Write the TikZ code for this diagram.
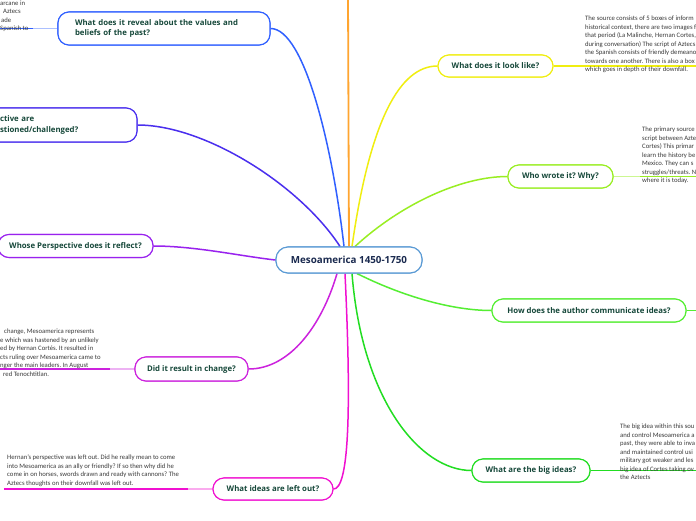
\documentclass[tikz,border=0pt]{standalone}
\usepackage{fontspec}
\setmainfont{Carlito}
\newfontfamily\titlefont{Open Sans}
\frenchspacing
\definecolor{titlegreen}{HTML}{16483A}
\definecolor{navy}{HTML}{1A2A4F}
\definecolor{bodygray}{HTML}{3A3A3A}
\definecolor{cborder}{HTML}{5B9BD5}
\definecolor{corange}{HTML}{FFA530}
\definecolor{cblue}{HTML}{3060FF}
\definecolor{cindigo}{HTML}{4A2FEE}
\definecolor{cpurple}{HTML}{9922EE}
\definecolor{cmagenta}{HTML}{CC22DD}
\definecolor{cpink}{HTML}{F010D0}
\definecolor{cyellow}{HTML}{F0EE10}
\definecolor{clime}{HTML}{99EE22}
\definecolor{cgreenb}{HTML}{55EE33}
\definecolor{cgreen}{HTML}{22DD22}
\tikzset{
  topic/.style={draw, rounded corners=11pt, fill=white, line width=1.1pt,
    font=\titlefont\bfseries\fontsize{7.8}{10.5}\selectfont, text=titlegreen,
    inner sep=0pt, minimum height=23pt},
  central/.style={draw=cborder, rounded corners=12pt, fill=white, line width=1.1pt,
    font=\titlefont\bfseries\fontsize{9.8}{11}\selectfont, text=navy,
    inner sep=0pt, minimum height=26pt, minimum width=146pt},
  body/.style={font=\fontsize{6.7}{8.5}\selectfont, text=bodygray,
    inner sep=0pt, anchor=north west, align=left},
  branch/.style={line width=1.5pt},
  uline/.style={line width=1.3pt}
}
\begin{document}
\begin{tikzpicture}[x=1pt,y=-1pt]
\useasboundingbox (0,0) rectangle (696,520);
\clip (0,0) rectangle (696,520);
\fill[white] (0,0) rectangle (696,520);

\path
  (349,260) coordinate (centerpos)
  (164,28.5) coordinate (revealpos)
  (60,125) coordinate (questpos)
  (75.5,246) coordinate (whosepos)
  (191.5,369) coordinate (didpos)
  (273,489) coordinate (leftpos)
  (495.5,66) coordinate (lookpos)
  (560.5,176.5) coordinate (whopos)
  (589,310.5) coordinate (howpos)
  (531,470.5) coordinate (bigpos);

% nodes (first pass, to name them)
\node[central] (center) at (centerpos) {Mesoamerica 1450-1750};
\node[topic, draw=cblue, text width=178pt, inner xsep=17pt, minimum height=33pt, align=left] (reveal) at (revealpos)
  {What does it reveal about the values and\\beliefs of the past?};
\node[topic, draw=cindigo, text width=120pt, inner xsep=17pt, minimum height=34pt, align=left] (quest) at (questpos)
  {ctive are\\stioned/challenged?};
\node[topic, draw=cpurple, minimum width=155pt] (whose) at (whosepos) {Whose Perspective does it reflect?};
\node[topic, draw=cmagenta, minimum width=113pt, minimum height=24pt] (did) at (didpos) {Did it result in change?};
\node[topic, draw=cpink, minimum width=120pt, minimum height=22pt] (leftout) at (leftpos) {What ideas are left out?};
\node[topic, draw=cyellow, minimum width=115pt, minimum height=22pt] (look) at (lookpos) {What does it look like?};
\node[topic, draw=clime, minimum width=105pt, minimum height=23pt] (who) at (whopos) {Who wrote it? Why?};
\node[topic, draw=cgreenb, minimum width=194pt, minimum height=23pt] (how) at (howpos) {How does the author communicate ideas?};
\node[topic, draw=cgreen, minimum width=118pt, minimum height=23pt] (big) at (bigpos) {What are the big ideas?};

% free ends
\coordinate (otop) at (348,-5);
\coordinate (ulreveal) at (0,28.5);
\coordinate (ulrevealm) at (33,28.5);
\coordinate (uldid) at (0,369);
\coordinate (uldidm) at (110,369);
\coordinate (ulleft) at (4,489);
\coordinate (ulleftm) at (188,489);
\coordinate (ullook) at (700,66);
\coordinate (ulwho) at (700,176.5);
\coordinate (ulwhom) at (640,176.5);
\coordinate (ulbig) at (700,470.5);
\coordinate (ulhow) at (700,310.5);

% connectors
\draw[line width=1.8pt, corange] (center.north) -- (otop);
\draw[branch, cblue] ([xshift=-5pt]center.north) .. controls (333,150) and (305,28.5) .. (reveal.east);
\draw[branch, cindigo] ([xshift=-9pt]center.north) .. controls (300,185) and (205,125) .. (quest.east);
\draw[branch, cpurple] (center.west) .. controls (240,256) and (195,246) .. (whose.east);
\draw[branch, cmagenta] ([xshift=-12pt]center.south) .. controls (322,325) and (290,369) .. (did.east);
\draw[branch, cpink] ([xshift=-4pt]center.south) .. controls (352,420) and (348,489) .. (leftout.east);
\draw[branch, cgreen] ([xshift=3pt]center.south) .. controls (362,400) and (420,470.5) .. (big.west);
\draw[branch, cgreenb] ([xshift=8pt]center.south) .. controls (400,295) and (450,310.5) .. (how.west);
\draw[branch, clime] ([xshift=6pt]center.north) .. controls (400,205) and (460,176.5) .. (who.west);
\draw[branch, cyellow] ([xshift=3pt]center.north) .. controls (370,120) and (400,66) .. (look.west);

% underlines of the notes
\draw[uline, cblue!40] (reveal.west) -- (ulrevealm);
\draw[uline, cblue] (ulrevealm) -- (ulreveal);
\draw[uline, cmagenta!35] (did.west) -- (uldidm);
\draw[uline, cmagenta] (uldidm) -- (uldid);
\draw[uline, cpink!35] (leftout.west) -- (ulleftm);
\draw[uline, cpink] (ulleftm) -- (ulleft);
\draw[uline, cyellow] (look.east) -- (ullook);
\draw[uline, clime!50] (who.east) -- (ulwhom);
\draw[uline, clime] (ulwhom) -- (ulwho);
\draw[uline, cgreen] (big.east) -- (ulbig);
\draw[uline, cgreenb] (how.east) -- (ulhow);

% redraw nodes on top of connectors
\node[central] at (centerpos) {Mesoamerica 1450-1750};
\node[topic, draw=cblue, text width=178pt, inner xsep=17pt, minimum height=33pt, align=left] at (revealpos)
  {What does it reveal about the values and\\beliefs of the past?};
\node[topic, draw=cindigo, text width=120pt, inner xsep=17pt, minimum height=34pt, align=left] at (questpos)
  {ctive are\\stioned/challenged?};
\node[topic, draw=cpurple, minimum width=155pt] at (whosepos) {Whose Perspective does it reflect?};
\node[topic, draw=cmagenta, minimum width=113pt, minimum height=24pt] at (didpos) {Did it result in change?};
\node[topic, draw=cpink, minimum width=120pt, minimum height=22pt] at (leftpos) {What ideas are left out?};
\node[topic, draw=cyellow, minimum width=115pt, minimum height=22pt] at (lookpos) {What does it look like?};
\node[topic, draw=clime, minimum width=105pt, minimum height=23pt] at (whopos) {Who wrote it? Why?};
\node[topic, draw=cgreenb, minimum width=194pt, minimum height=23pt] at (howpos) {How does the author communicate ideas?};
\node[topic, draw=cgreen, minimum width=118pt, minimum height=23pt] at (bigpos) {What are the big ideas?};

% text blocks
\node[body] (tTL) at (0,0.5) {arcane in\\\hspace*{3pt}Aztecs\\\hspace*{1pt}ade\\Spanish to};
\node[body] (tlook) at (585,16) {The source consists of 5 boxes of inform\\historical context, there are two images f\\that period (La Malinche, Hernan Cortes,\\during conversation) The script of Aztecs\\the Spanish consists of friendly demeano\\towards one another. There is also a box\\which goes in depth of their downfall.};
\node[body] (twho) at (642,127) {The primary source\\script between Azte\\Cortes) This primar\\learn the history be\\Mexico. They can s\\struggles/threats. N\\where it is today.};
\node[body] (tbig) at (620,424) {The big idea within this sou\\and control Mesoamerica a\\past, they were able to inva\\and maintained control usi\\military got weaker and les\\big idea of Cortes taking ov\\the Aztects};
\node[body] (tdid) at (0,329) {\hspace*{4pt}change, Mesoamerica represents\\e which was hastened by an unlikely\\ed by Hernan Cort\'es. It resulted in\\cts ruling over Mesoamerica came to\\nger the main leaders. In August\\\hspace*{3pt}red Tenochtitlan.};
\node[body] (tleft) at (7,455) {Hernan's perspective was left out. Did he really mean to come\\into Mesoamerica as an ally or friendly? If so then why did he\\come in on horses, swords drawn and ready with cannons? The\\Aztecs thoughts on their downfall was left out.};
\end{tikzpicture}
\end{document}
